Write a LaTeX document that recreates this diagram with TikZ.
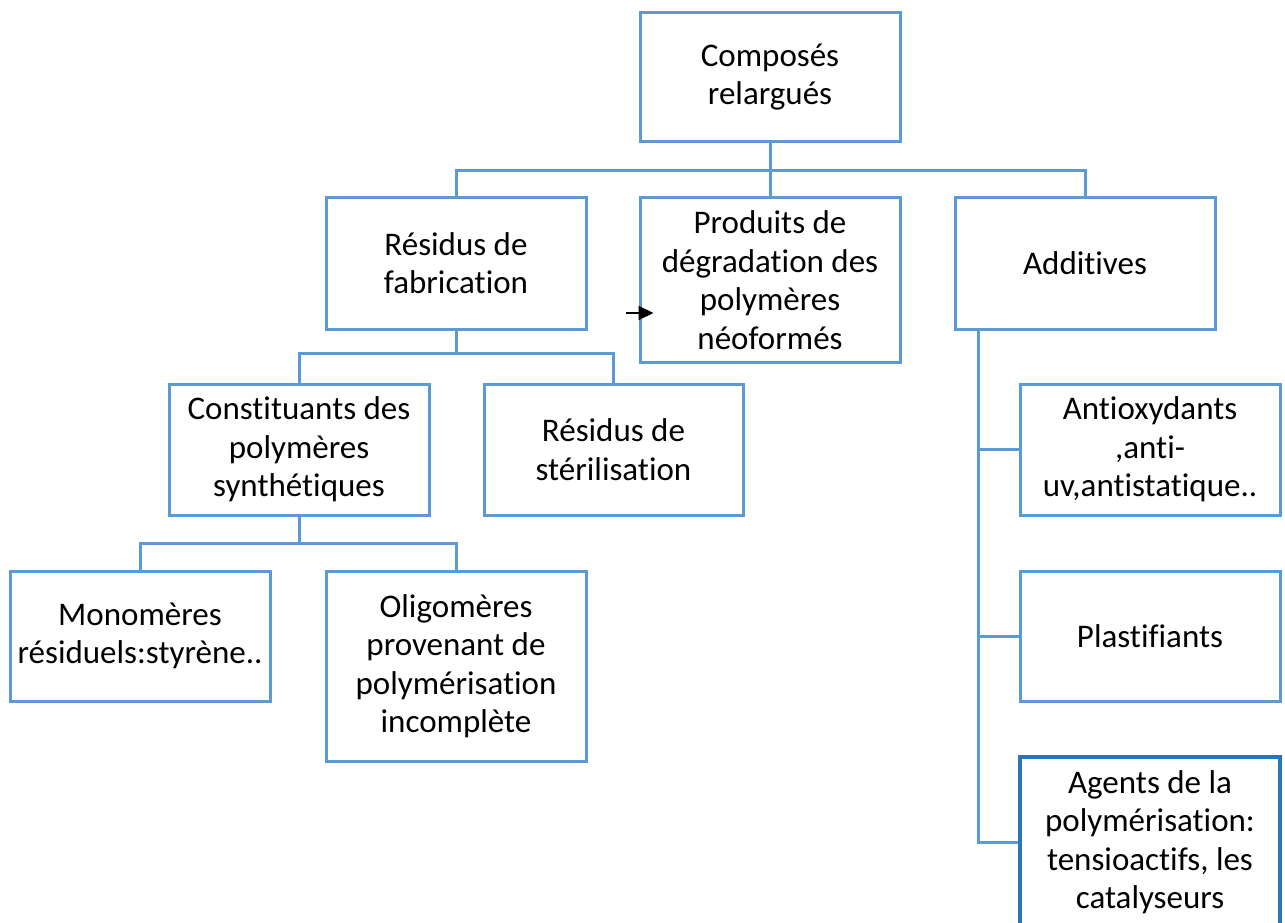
\documentclass[tikz,border=0pt]{standalone}
\usepackage{fontspec}
\setmainfont{Carlito}[Ligatures=NoCommon]
\usetikzlibrary{arrows.meta}
\definecolor{boxblue}{HTML}{5B9BD5}
\definecolor{darkblue}{HTML}{2E75B6}
\begin{document}
\begin{tikzpicture}[x=1pt,y=1pt,
  bx/.style={draw=boxblue, line width=3pt, fill=white, inner sep=0pt, align=center,
    minimum width=260pt, font=\fontsize{33}{38.5}\selectfont},
  conn/.style={draw=boxblue, line width=3pt},
  arr/.style={-{Triangle[length=15pt,width=14pt]}, line width=2pt, black}]
\useasboundingbox (0,0) rectangle (1285,-923);
\fill[white] (0,0) rectangle (1285,-923);
% nodes
\node[bx, minimum height=129pt] (top) at (770,-77) {Composés\\relargués};
\node[bx, minimum height=132pt] (resfab) at (456,-263) {Résidus de\\fabrication};
\node[bx, minimum height=165pt] (prod) at (770,-280) {Produits de\\dégradation des\\polymères\\néoformés};
\node[bx, minimum height=132pt] (add) at (1085,-263) {Additives};
\node[bx, minimum height=131pt] (const) at (299,-449.5) {Constituants des\\polymères\\synthétiques};
\node[bx, minimum height=131pt, minimum width=259pt] (ster) at (613.5,-449.5) {Résidus de\\stérilisation};
\node[bx, minimum height=130pt] (mono) at (140,-636) {Monomères\\résiduels:styrène..};
\node[bx, minimum height=190pt] (oligo) at (456,-666) {Oligomères\\provenant de\\polymérisation\\incomplète};
\node[bx, minimum height=131pt] (anti) at (1150,-449.5) {Antioxydants\\,anti-\\uv,antistatique..};
\node[bx, minimum height=130pt] (plast) at (1150,-636) {Plastifiants};
\node[bx, draw=darkblue, line width=3.2pt, minimum height=170pt] (agents) at (1150,-842) {Agents de la\\polymérisation:\\tensioactifs, les\\catalyseurs};
% connectors
\coordinate (b1) at (770,-170);
\coordinate (b2) at (456,-353);
\coordinate (b3) at (299,-543);
\draw[conn] (top.south) -- (prod.north);
\draw[conn] (resfab.north) |- (b1) -| (add.north);
\draw[conn] (resfab.south) -- (b2);
\draw[conn] (const.north) |- (b2) -| (ster.north);
\draw[conn] (const.south) -- (b3);
\draw[conn] (mono.north) |- (b3) -| (oligo.north);
\coordinate (a0) at ([xshift=25pt]add.south west);
\draw[conn] (a0) |- (agents.west);
\draw[conn] (a0 |- anti.west) -- (anti.west);
\draw[conn] (a0 |- plast.west) -- (plast.west);
% arrow
\coordinate (as) at (626,-313);
\coordinate (ae) at ([xshift=15pt]as -| prod.west);
\draw[arr] (as) -- (ae);
\end{tikzpicture}
\end{document}
